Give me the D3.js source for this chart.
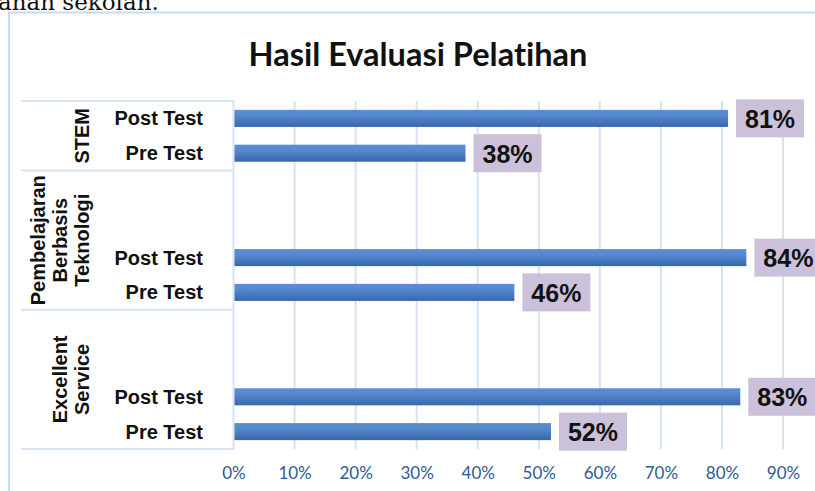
<!DOCTYPE html>
<html>
<head>
<meta charset="utf-8">
<script src="https://cdn.jsdelivr.net/npm/d3@7"></script>
<style>
  html, body { margin: 0; padding: 0; background: #fff; overflow: hidden; }
  svg { display: block; }
  text { font-variant-ligatures: none; }
</style>
</head>
<body>
<svg id="chart" width="815" height="491"></svg>
<script>
// ---- Data ----
const title = "Hasil Evaluasi Pelatihan";
const groups = ["STEM", "Pembelajaran Berbasis Teknologi", "Excellent Service"];
const groupLines = [["STEM"], ["Pembelajaran", "Berbasis", "Teknologi"], ["Excellent", "Service"]];
const emptySlots = [0, 2, 2];
const tests = ["Post Test", "Pre Test"];
const postValues = [0.81, 0.84, 0.83];
const preValues = [0.38, 0.46, 0.52];
const xTicks = [0, 0.1, 0.2, 0.3, 0.4, 0.5, 0.6, 0.7, 0.8, 0.9];

// ---- Build slots ----
const slots = [];
const bars = [];
groups.forEach((g, gi) => {
  for (let k = 0; k < emptySlots[gi]; k++) slots.push({ key: g + "|empty" + k, group: gi });
  tests.forEach((t, ti) => {
    const key = g + "|" + t;
    slots.push({ key, group: gi, test: t });
    bars.push({ key, group: gi, test: t, value: ti === 0 ? postValues[gi] : preValues[gi] });
  });
});

const svg = d3.select("#chart");
const W = 815, H = 491;
const gridColor = "#d6e3f3";

// background fragment text from page above
svg.append("text")
  .attr("x", -2).attr("y", 9.5)
  .attr("font-family", "DejaVu Serif")
  .attr("font-size", 23)
  .attr("fill", "#111")
  .text("ahan sekolah.");

// chart frame
svg.append("path")
  .attr("d", `M9,${H} L9,12.5 L${W},12.5`)
  .attr("fill", "none")
  .attr("stroke", "#c9dbf0")
  .attr("stroke-width", 2);

// title
svg.append("text")
  .attr("x", 418).attr("y", 66)
  .attr("text-anchor", "middle")
  .attr("font-family", "Lato")
  .attr("font-weight", "bold")
  .attr("font-size", 32.5)
  .attr("fill", "#111")
  .text(title);

// scales
const x = d3.scaleLinear().domain([0, 0.9]).range([233.5, 783]);
const y = d3.scaleBand().domain(slots.map(s => s.key)).range([101, 449])
  .paddingInner(0.51).paddingOuter(0.255);
const step = y.step();
const off = (step - y.bandwidth()) / 2;

// gradient
const defs = svg.append("defs");
const grad = defs.append("linearGradient").attr("id", "barGrad")
  .attr("x1", 0).attr("y1", 0).attr("x2", 0).attr("y2", 1);
grad.append("stop").attr("offset", "0%").attr("stop-color", "#5b8ed3");
grad.append("stop").attr("offset", "35%").attr("stop-color", "#5588cd");
grad.append("stop").attr("offset", "100%").attr("stop-color", "#3966aa");

// vertical gridlines
svg.append("g").selectAll("line")
  .data(xTicks.slice(1))
  .join("line")
  .attr("x1", d => x(d)).attr("x2", d => x(d))
  .attr("y1", 101).attr("y2", 449)
  .attr("stroke", gridColor).attr("stroke-width", 2);

// x-axis tick labels
const xAxis = d3.axisBottom(x).tickValues(xTicks).tickFormat(d3.format(".0%")).tickSize(0).tickPadding(0);
const xg = svg.append("g").attr("transform", "translate(0,470)").call(xAxis);
xg.select(".domain").remove();
xg.selectAll("text")
  .attr("font-family", "Lato")
  .attr("font-size", 17)
  .attr("fill", "#2f5a93")
  .attr("dy", "0.9em")
  .attr("y", -6);

// category axis box
const groupBounds = groups.map((g, gi) => {
  const gs = slots.filter(s => s.group === gi);
  const top = y(gs[0].key) - off;
  const bottom = y(gs[gs.length - 1].key) + y.bandwidth() + off;
  return { gi, top, bottom };
});
const boundaryYs = [groupBounds[0].top].concat(groupBounds.map(b => b.bottom));
svg.append("g").selectAll("line")
  .data(boundaryYs)
  .join("line")
  .attr("x1", 21).attr("x2", x(0))
  .attr("y1", d => d).attr("y2", d => d)
  .attr("stroke", gridColor).attr("stroke-width", 2);
svg.append("line")
  .attr("x1", x(0)).attr("x2", x(0))
  .attr("y1", boundaryYs[0] - 1).attr("y2", boundaryYs[boundaryYs.length - 1] + 1)
  .attr("stroke", gridColor).attr("stroke-width", 2);

// bars
svg.append("g").selectAll("rect")
  .data(bars)
  .join("rect")
  .attr("x", x(0) + 1)
  .attr("y", d => y(d.key))
  .attr("width", d => x(d.value) - x(0) - 1)
  .attr("height", y.bandwidth())
  .attr("fill", "url(#barGrad)");

// test labels
svg.append("g").selectAll("text")
  .data(bars)
  .join("text")
  .attr("x", 203)
  .attr("y", d => y(d.key) + y.bandwidth() / 2 + 7)
  .attr("text-anchor", "end")
  .attr("font-family", "Liberation Sans")
  .attr("font-weight", "bold")
  .attr("font-size", 20)
  .attr("fill", "#111")
  .text(d => d.test);

// group labels (rotated)
groupBounds.forEach(b => {
  const lines = groupLines[b.gi];
  const cy = (b.top + b.bottom) / 2;
  const n = lines.length;
  lines.forEach((ln, li) => {
    const bx = 89 - (n - 1 - li) * 22;
    svg.append("text")
      .attr("transform", `translate(${bx},${cy}) rotate(-90)`)
      .attr("text-anchor", "middle")
      .attr("font-family", "Liberation Sans")
      .attr("font-weight", "bold")
      .attr("font-size", 20)
      .attr("fill", "#111")
      .text(ln);
  });
});

// data labels
const lab = svg.append("g").selectAll("g")
  .data(bars)
  .join("g")
  .attr("transform", d => `translate(${x(d.value) + 8},${y(d.key) + y.bandwidth() / 2 - 19})`);
lab.append("rect")
  .attr("width", 68).attr("height", 38)
  .attr("fill", "#ccc1da");
lab.append("text")
  .attr("x", 34).attr("y", 28.5)
  .attr("text-anchor", "middle")
  .attr("font-family", "Liberation Sans")
  .attr("font-weight", "bold")
  .attr("font-size", 25)
  .attr("fill", "#111")
  .text(d => d3.format(".0%")(d.value));
</script>
</body>
</html>
